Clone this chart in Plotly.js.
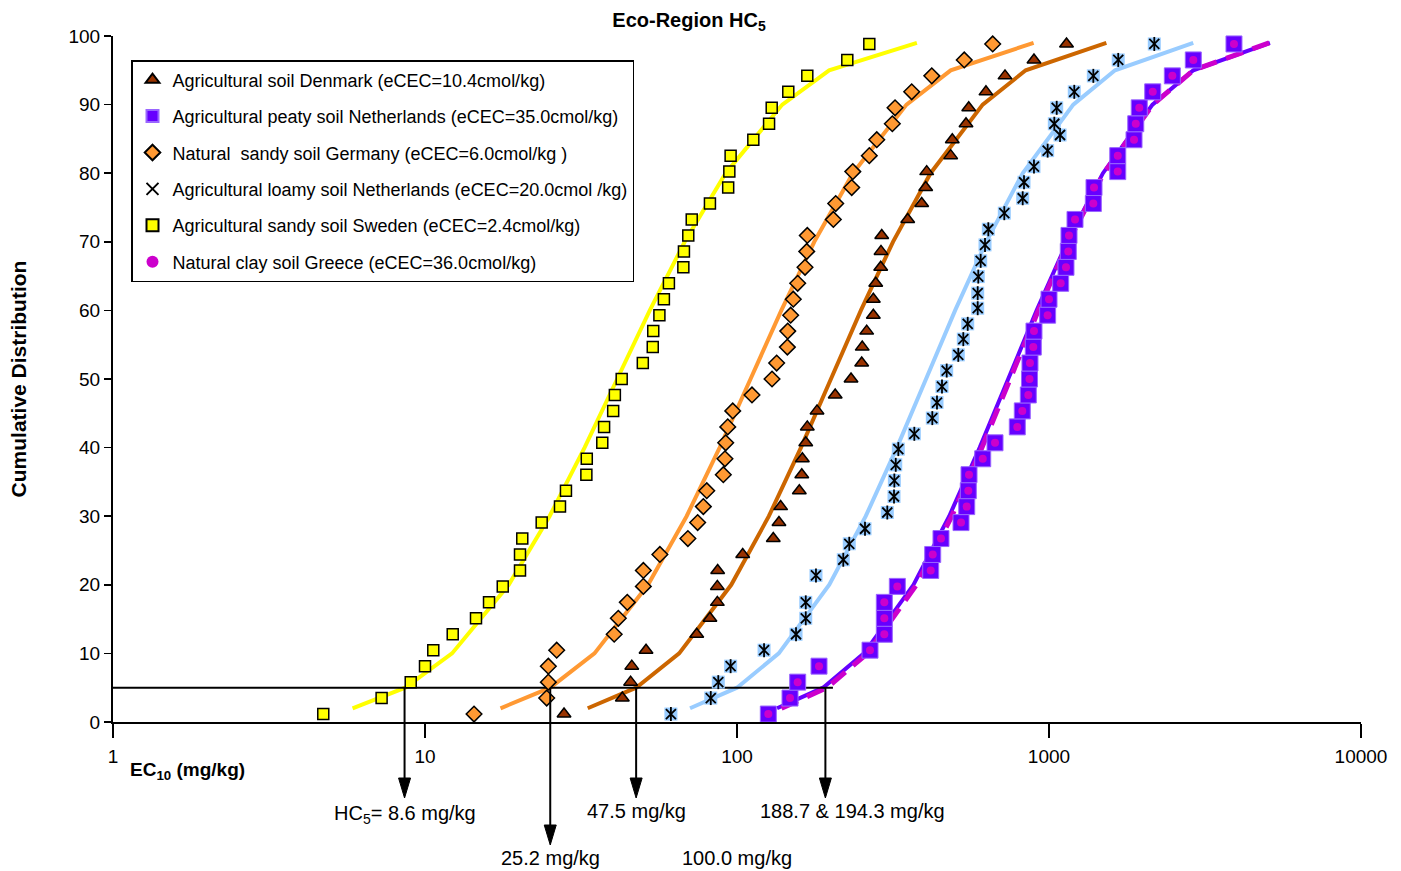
<!DOCTYPE html>
<html>
<head>
<meta charset="utf-8">
<script src="https://cdn.plot.ly/plotly-3.0.1.min.js"></script>
<style>html,body{margin:0;padding:0;background:#fff;}#chart{width:1401px;height:871px;}</style>
</head>
<body>
<div id="chart"></div>
<script>
// ---------- DATA ----------
// cumulative rank (%) of each of the 43 points
const rankY = [1.16, 3.49, 5.81, 8.14, 10.47, 12.79, 15.12, 17.44, 19.77, 22.09, 24.42, 26.74, 29.07, 31.40, 33.72, 36.05, 38.37, 40.70, 43.02, 45.35, 47.67, 50.00, 52.33, 54.65, 56.98, 59.30, 61.63, 63.95, 66.28, 68.60, 70.93, 73.26, 75.58, 77.91, 80.23, 82.56, 84.88, 87.21, 89.53, 91.86, 94.19, 96.51, 98.84];
// loamy soil points are drawn at slightly different heights in the picture
const loamyY = [1.16, 3.49, 5.81, 8.14, 10.47, 12.79, 15.12, 17.44, 21.36, 23.65, 25.98, 28.17, 30.54, 32.87, 35.20, 37.49, 39.78, 42.01, 44.30, 46.57, 48.90, 51.23, 53.52, 55.81, 58.04, 60.32, 62.51, 64.93, 67.22, 69.55, 71.83, 74.17, 76.35, 78.68, 80.96, 83.29, 85.57, 87.21, 89.53, 91.86, 94.19, 96.51, 98.84];

const swedenX = [4.72, 7.26, 9.00, 10.0, 10.63, 12.27, 14.57, 16.04, 17.75, 20.16, 20.16, 20.5, 23.66, 27.08, 28.3, 32.9, 33.0, 37.0, 37.5, 40.1, 40.6, 42.7, 49.9, 53.7, 53.9, 56.4, 58.3, 60.5, 67.3, 67.6, 69.8, 71.6, 81.9, 93.7, 94.5, 95.4, 112.8, 126.7, 129.2, 146, 168, 225.7, 265.5];
const germanyX = [14.36, 24.55, 24.85, 24.85, 26.43, 40.4, 41.65, 44.5, 50.1, 50.1, 56.6, 69.6, 74.8, 78.0, 80.0, 90.4, 91.5, 92.0, 93.4, 96.9, 111.7, 129.5, 134, 145, 145.4, 148.6, 151.5, 156.5, 165.2, 167.3, 168, 203.6, 207.2, 233.2, 235, 265.5, 280.5, 314.7, 321, 363, 421, 535, 660];
const denmarkX = [27.9, 42.9, 45.6, 46.0, 51.1, 74.3, 81.9, 86.5, 86.5, 86.7, 104.3, 130.7, 136.3, 138, 158.4, 161.3, 162, 166.1, 168, 180.5, 206.4, 232, 251, 252, 260.4, 273.5, 273.5, 278.4, 288.8, 289.4, 291, 352.5, 390.8, 402.5, 405.5, 484, 489.8, 542, 553, 628, 722.8, 895, 1138];
const loamyX = [61.4, 82.4, 87.1, 95.4, 122.1, 154.6, 166.1, 166.1, 179.1, 219.1, 229, 257.2, 303.2, 318.6, 319.4, 322.7, 328.9, 370.1, 422.7, 437.5, 454, 470, 512, 531.3, 548.8, 590.8, 590.8, 593.4, 604, 623.6, 639, 719, 823.5, 831.6, 895, 990, 1085, 1040, 1058.5, 1205, 1387, 1667, 2175];
const peatyX = [126, 147.9, 156.5, 183.2, 266.9, 296.6, 296.6, 296.6, 326.5, 417.7, 423.9, 450.6, 522.4, 544.9, 551.3, 554.2, 613.2, 671.4, 791.4, 821.1, 858.4, 866, 869, 890.5, 895, 990, 1000, 1090, 1133.5, 1153, 1159, 1211.6, 1387, 1394, 1661, 1661, 1873, 1897, 1947, 2150, 2485, 2901, 3916];
const greeceX = [126, 147.9, 156.5, 183.2, 266.9, 296.6, 296.6, 296.6, 326.5, 417.7, 423.9, 450.6, 522.4, 544.9, 551.3, 554.2, 613.2, 671.4, 791.4, 821.1, 858.4, 866, 869, 890.5, 895, 990, 1000, 1090, 1133.5, 1153, 1159, 1211.6, 1387, 1394, 1661, 1661, 1873, 1897, 1947, 2150, 2485, 2901, 3916];

// fitted distribution lines (cumulative % at each vertex)
const fitPct = [2, 5, 10, 20, 30, 40, 50, 60, 70, 80, 90, 95, 99];
const swedenFit = [5.86, 8.64, 12.21, 18.55, 25.08, 32.47, 41.30, 52.54, 68.0, 91.97, 139.7, 197.4, 377.2];
const germanyFit = [17.46, 25.2, 34.93, 51.85, 68.95, 87.99, 110.5, 138.7, 176.9, 235.3, 349.4, 484.1, 892.6];
const denmarkFit = [33.23, 47.5, 65.26, 95.85, 126.5, 160.3, 200.0, 249.5, 316.2, 417.3, 613.0, 842.0, 1527];
const loamyFit = [70.72, 100.0, 136.1, 197.6, 258.6, 325.5, 403.5, 500.2, 629.5, 823.6, 1196, 1628, 2900];
const peatyFit = [134.4, 188.7, 255.2, 367.8, 478.8, 599.6, 740.0, 913.0, 1144, 1489, 2146, 2901, 5107];
const greeceFit = [138.9, 194.3, 261.9, 376.0, 488.0, 609.8, 750.8, 924.4, 1155, 1499, 2152, 2901, 5076];

const hc5Level = 5;
const hc5LineX = [1, 203];
const hc5ArrowX = [8.6, 25.2, 47.5, 192];
const hc5Labels = ['HC<sub>5</sub>= 8.6 mg/kg', '25.2 mg/kg', '47.5 mg/kg', '188.7 &amp; 194.3 mg/kg', '100.0 mg/kg'];
const hc5LabelX = [8.6, 25.2, 47.5, 192, 100];

const names = {
  denmark: 'Agricultural soil Denmark (eCEC=10.4cmol/kg)',
  peaty: 'Agricultural peaty soil Netherlands (eCEC=35.0cmol/kg)',
  germany: 'Natural  sandy soil Germany (eCEC=6.0cmol/kg )',
  loamy: 'Agricultural loamy soil Netherlands (eCEC=20.0cmol /kg)',
  sweden: 'Agricultural sandy soil Sweden (eCEC=2.4cmol/kg)',
  greece: 'Natural clay soil Greece (eCEC=36.0cmol/kg)'
};

// ---------- STYLE / LAYOUT ----------
const FONT = 'Liberation Sans, Arial, Helvetica, sans-serif';
const W = 1401, H = 871;
const M = {l: 113, r: 40, t: 36, b: 149};
const plotH = H - M.t - M.b;
const plotW = W - M.l - M.r;
const pxToPaperY = px => (H - M.b - px) / plotH;
const Y_RANGE = [0, 100];

function fitLine(x, color, dash, width) {
  return {x: x, y: fitPct, type: 'scatter', mode: 'lines', showlegend: false, hoverinfo: 'skip',
    line: {color: color, width: width || 4, dash: dash || 'solid'}};
}
function pts(x, y, name, marker, rank, show) {
  return {x: x, y: y, type: 'scatter', mode: 'markers', name: name, legendgroup: name,
    legendrank: rank, showlegend: show !== false, cliponaxis: false, marker: marker};
}

const traces = [
  fitLine(swedenFit, '#FFFF00'),
  fitLine(germanyFit, '#FF9933'),
  fitLine(denmarkFit, '#CC6600'),
  fitLine(loamyFit, '#99CCFF'),
  fitLine(peatyFit, '#6600FF', 'solid', 4),
  fitLine(greeceFit, '#CC00CC', '18px,10px', 5),
  {x: hc5LineX, y: [hc5Level, hc5Level], type: 'scatter', mode: 'lines', showlegend: false,
    hoverinfo: 'skip', line: {color: '#000', width: 2}},
  pts(swedenX, rankY, names.sweden, {symbol: 'square', size: 11, color: '#FFFF00', line: {color: '#000', width: 1.5}}, 5),
  pts(germanyX, rankY, names.germany, {symbol: 'diamond', size: 12, color: '#FF9933', line: {color: '#000', width: 1.5}}, 3),
  pts(denmarkX, rankY, names.denmark, {symbol: 'triangle-up', size: 12, color: '#993300', line: {color: '#000', width: 1.5}}, 1),
  pts(loamyX, loamyY, 'loamybg', {symbol: 'square', size: 13, color: '#99CCFF', line: {width: 0}}, 10, false),
  pts(loamyX, loamyY, names.loamy, {symbol: 'x-thin-open', size: 10, color: '#000', line: {color: '#000', width: 1.8}}, 4),
  pts(loamyX, loamyY, 'loamyv', {symbol: 'line-ns-open', size: 10, color: '#000', line: {color: '#000', width: 1.8}}, 11, false),
  pts(peatyX, rankY, names.peaty, {symbol: 'square', size: 16, color: '#6600FF', line: {color: '#9966FF', width: 1}}, 2),
  pts(greeceX, rankY, names.greece, {symbol: 'circle', size: 8, color: '#CC00CC', line: {width: 0}}, 6)
];

// arrows from the HC5 line down to the labels: shaft (line shape) + head (pixel-sized path shape)
const tipPx = [798, 845, 798, 798];
const headLen = 20, headHalf = 6;
const shapes = [];
hc5ArrowX.forEach((v, i) => {
  shapes.push({type: 'line', xref: 'x', yref: 'paper', x0: v, x1: v,
    y0: (hc5Level - Y_RANGE[0]) / (Y_RANGE[1] - Y_RANGE[0]), y1: pxToPaperY(tipPx[i] - headLen + 2),
    line: {color: '#000', width: 2}});
  shapes.push({type: 'path', xref: 'x', yref: 'paper', xsizemode: 'pixel', ysizemode: 'pixel',
    xanchor: v, yanchor: pxToPaperY(tipPx[i]),
    path: 'M' + (-headHalf) + ',' + headLen + ' L' + headHalf + ',' + headLen + ' L0,0 Z',
    fillcolor: '#000', line: {color: '#000', width: 1}});
});

const annotations = [];
const labelPx = [815, 858, 811, 811, 858];
const labelShift = [0, 0, 0, 27, 0];
hc5Labels.forEach((t, i) => {
  annotations.push({x: Math.log10(hc5LabelX[i]), y: pxToPaperY(labelPx[i]), xref: 'x', yref: 'paper',
    text: t, showarrow: false, xanchor: 'center', yanchor: 'middle', xshift: labelShift[i],
    font: {family: FONT, size: 20, color: '#000'}});
});
annotations.push({x: (128 - M.l) / plotW, y: pxToPaperY(771), xref: 'paper', yref: 'paper',
  text: '<b>EC<sub>10</sub> (mg/kg)</b>', showarrow: false, xanchor: 'left', yanchor: 'middle',
  font: {family: FONT, size: 19, color: '#000'}});

const layout = {
  width: W, height: H, margin: M, paper_bgcolor: '#fff', plot_bgcolor: '#fff',
  font: {family: FONT, color: '#000'},
  title: {text: 'Eco-Region HC<sub>5</sub>', x: (689 - M.l) / plotW, xref: 'paper', xanchor: 'center',
    y: 1 - 20 / H, yref: 'container', yanchor: 'middle', font: {family: FONT, size: 20, weight: 'bold', color: '#000'}},
  xaxis: {type: 'log', range: [0, 4], tickmode: 'array', tickvals: [1, 10, 100, 1000, 10000],
    ticktext: ['1', '10', '100', '1000', '10000'], ticks: 'outside', ticklen: 14, tickwidth: 1.5, tickcolor: '#000',
    ticklabelstandoff: 2, showline: true, linecolor: '#000', linewidth: 2, showgrid: false, zeroline: false,
    tickfont: {family: FONT, size: 19, color: '#000'}},
  yaxis: {range: Y_RANGE, tickmode: 'linear', tick0: 0, dtick: 10, ticks: 'outside', ticklen: 7, tickwidth: 1.5,
    tickcolor: '#000', showline: true, linecolor: '#000', linewidth: 2, showgrid: false, zeroline: false,
    tickfont: {family: FONT, size: 19, color: '#000'},
    title: {text: 'Cumulative Distribution', standoff: 36, font: {family: FONT, size: 21, weight: 'bold', color: '#000'}}},
  legend: {x: (131 - M.l) / plotW, y: pxToPaperY(60), xanchor: 'left', yanchor: 'top',
    bgcolor: '#fff', bordercolor: '#000', borderwidth: 1.5, tracegroupgap: 10,
    itemsizing: 'constant',
    font: {family: FONT, size: 18, color: '#000'}},
  shapes: shapes,
  annotations: annotations,
  showlegend: true
};

Plotly.newPlot('chart', traces, layout, {staticPlot: true, displayModeBar: false});
</script>
</body>
</html>
